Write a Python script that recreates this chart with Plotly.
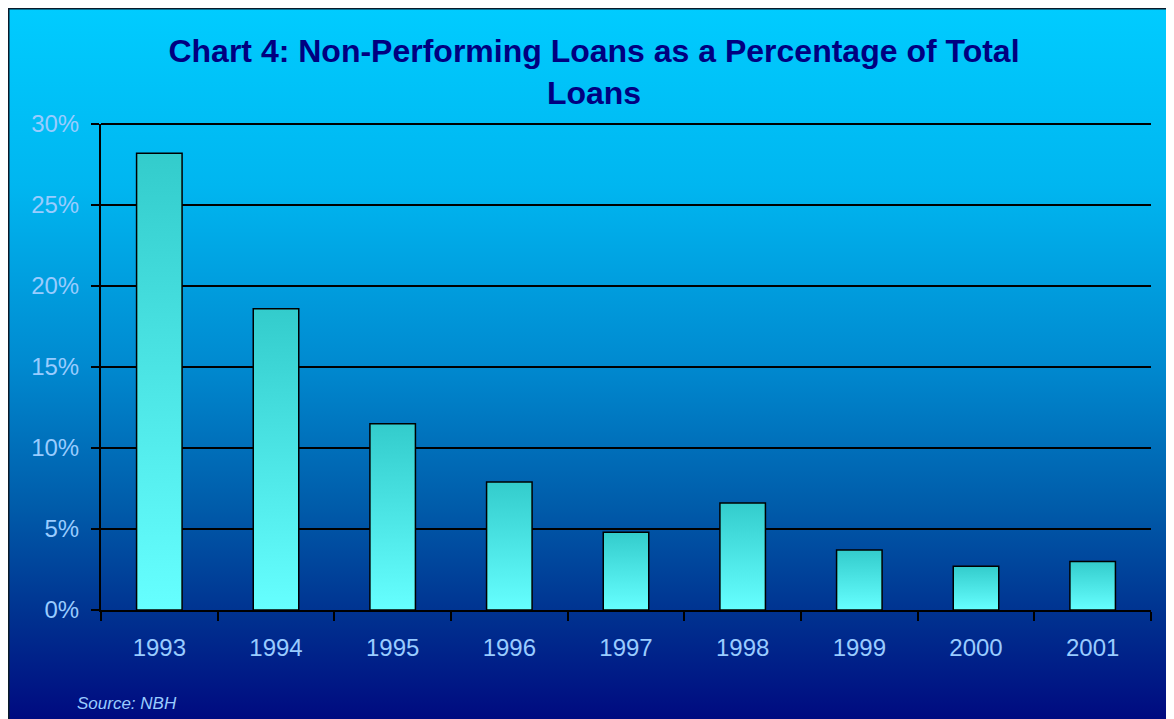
import base64

import plotly.graph_objects as go

# data
years = ["1993", "1994", "1995", "1996", "1997", "1998", "1999", "2000", "2001"]
npl_pct = [28.2, 18.6, 11.5, 7.9, 4.8, 6.6, 3.7, 2.7, 3.0]
y_ticks = [0, 5, 10, 15, 20, 25, 30]
y_tick_text = ["0%", "5%", "10%", "15%", "20%", "25%", "30%"]

W, H = 1166, 711
M = dict(l=93, r=23, t=116, b=109)
PW = W - M["l"] - M["r"]
PH = H - M["t"] - M["b"]

BAR_WIDTH = 0.39
LABEL = "#99CCFF"
NAVY = "#000080"
FONT = "Liberation Sans, Arial, sans-serif"

# vertical sky-blue -> navy background, as an svg image behind everything
_svg = (
    '<svg xmlns="http://www.w3.org/2000/svg" width="100" height="100" '
    'viewBox="0 0 100 100" preserveAspectRatio="none">'
    '<defs><linearGradient id="g" x1="0" y1="0" x2="0" y2="1">'
    '<stop offset="0" stop-color="#00CCFF"/>'
    '<stop offset="0.25" stop-color="#00B6F0"/>'
    '<stop offset="0.5" stop-color="#008AD0"/>'
    '<stop offset="0.7" stop-color="#005CAA"/>'
    '<stop offset="0.86" stop-color="#00308F"/>'
    '<stop offset="1" stop-color="#000A80"/>'
    '</linearGradient></defs>'
    '<rect x="0" y="0" width="100" height="100" fill="url(#g)"/></svg>'
)
BG_SRC = "data:image/svg+xml;base64," + base64.b64encode(_svg.encode()).decode()


def px_x(p):
    return (p - M["l"]) / PW


def px_y(p):
    return (H - M["b"] - p) / PH


fig = go.Figure()

# bars as filled rectangles so each one can carry the teal -> cyan gradient
hw = BAR_WIDTH / 2
for i, (yr, v) in enumerate(zip(years, npl_pct)):
    fig.add_trace(go.Scatter(
        x=[i - hw, i - hw, i + hw, i + hw, i - hw],
        y=[0, v, v, 0, 0],
        mode="lines", fill="toself",
        line=dict(color="#000000", width=1.5),
        fillgradient=dict(type="vertical", colorscale=[[0, "#66FFFF"], [1, "#33CCCC"]]),
        name=yr, showlegend=False,
        hovertemplate=f"{yr}: {v}%<extra></extra>",
    ))

fig.update_layout(
    width=W, height=H, margin=M,
    paper_bgcolor="white", plot_bgcolor="rgba(0,0,0,0)",
    font=dict(family=FONT, color=LABEL),
    title=dict(
        text="Chart 4: Non-Performing Loans as a Percentage of Total<br>Loans",
        font=dict(family=FONT, size=32, color=NAVY, weight="bold"),
        xref="container", yref="container", x=586 / W, y=1 - 54 / H,
        xanchor="center", yanchor="middle",
    ),
    images=[dict(
        source=BG_SRC, xref="paper", yref="paper",
        x=px_x(0), y=px_y(0), sizex=W / PW, sizey=H / PH,
        xanchor="left", yanchor="top", sizing="stretch", layer="below",
    )],
    shapes=[
        # outer frame (top and left edges are the visible ones)
        dict(type="line", xref="paper", yref="paper", x0=px_x(0), x1=px_x(W),
             y0=px_y(0.5), y1=px_y(0.5), line=dict(color="#0A1A2A", width=2)),
        dict(type="line", xref="paper", yref="paper", x0=px_x(0.5), x1=px_x(0.5),
             y0=px_y(0), y1=px_y(H), line=dict(color="#0A1A2A", width=2)),
        # top gridline, which plotly drops at the range edge
        dict(type="line", xref="paper", yref="paper", x0=0, x1=1,
             y0=1, y1=1, line=dict(color="#000000", width=2)),
    ],
    annotations=[dict(
        text="<i>Source: NBH</i>", xref="paper", yref="paper",
        x=px_x(67), y=px_y(695), xanchor="left", yanchor="middle",
        showarrow=False, font=dict(family=FONT, size=17, color=LABEL),
    )],
    showlegend=False,
)

fig.update_xaxes(
    range=[-0.5, len(years) - 0.5],
    tickmode="array", tickvals=list(range(len(years))), ticktext=years,
    ticks="", showgrid=False, zeroline=False,
    showline=True, linecolor="#000000", linewidth=2,
    tickfont=dict(size=24, color=LABEL), ticklabelstandoff=15,
    minor=dict(tickmode="array", tickvals=[i - 0.5 for i in range(len(years) + 1)],
               ticks="outside", ticklen=9, tickwidth=2, tickcolor="#000000", showgrid=False),
    fixedrange=True,
)
fig.update_yaxes(
    range=[0, 30], tickmode="array", tickvals=y_ticks, ticktext=y_tick_text,
    ticks="outside", ticklen=8, tickwidth=2, tickcolor="#000000",
    showgrid=True, gridcolor="#000000", gridwidth=1.6, zeroline=False,
    showline=True, linecolor="#000000", linewidth=2,
    tickfont=dict(size=24, color=LABEL), ticklabelstandoff=7,
    fixedrange=True,
)

fig.write_html("out.html")
